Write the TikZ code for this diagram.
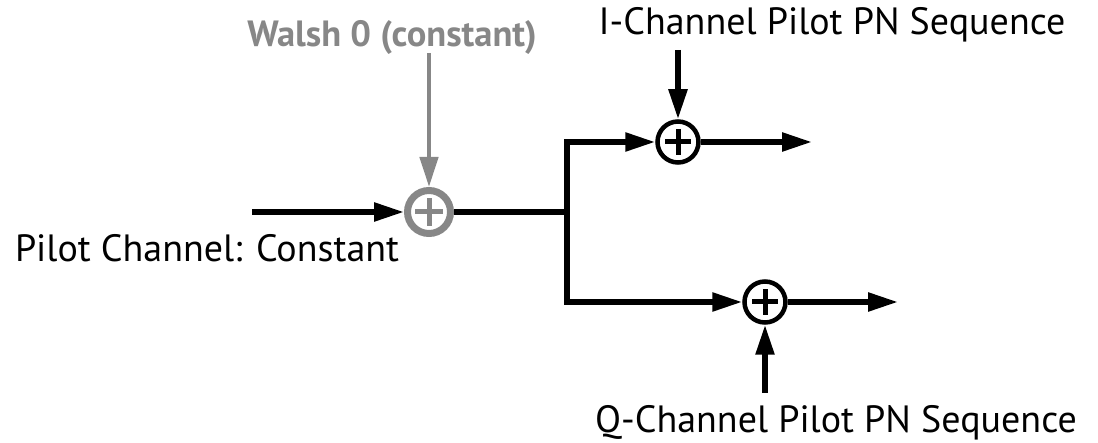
\documentclass[tikz,border=0pt]{standalone}
\usepackage{fontspec}
\setmainfont{PT Sans}
\usetikzlibrary{arrows.meta}
\definecolor{wgray}{RGB}{135,135,135}
\tikzset{
  sig/.style={line width=5.5pt, -{Triangle[length=30pt,width=18pt]}},
  wire/.style={line width=5.5pt},
  adder/.style={circle, draw, line width=4.5pt, minimum size=41pt, inner sep=0pt},
  gadder/.style={circle, draw=wgray, line width=7pt, minimum size=43pt, inner sep=0pt},
  plusbar/.style={line width=5pt},
  lbl/.style={anchor=base, inner sep=0pt, font=\fontsize{38}{44}\selectfont},
}
\begin{document}
\begin{tikzpicture}[x=1pt,y=-1pt]
\useasboundingbox (0,0) rectangle (1098,443);
% adders
\node[gadder] (w) at (429,212) {};
\node[adder] (i) at (678,142) {};
\node[adder] (q) at (765,302) {};
\foreach \n/\c/\h in {w/wgray/14, i/black/13, q/black/13}{
  \draw[plusbar, draw=\c] ([xshift=-\h pt]\n.center) -- ([xshift=\h pt]\n.center);
  \draw[plusbar, draw=\c] ([yshift=-\h pt]\n.center) -- ([yshift=\h pt]\n.center);
}
% labels
\node[lbl, text=wgray, font=\fontsize{36.5}{42}\selectfont\bfseries] (wl) at (392,47) {Walsh 0 (constant)};
\node[lbl] (il) at (832,35) {I-Channel Pilot PN Sequence};
\node[lbl] (pl) at (207,262) {Pilot Channel: Constant};
\node[lbl] (ql) at (836,432) {Q-Channel Pilot PN Sequence};
% free ends
\coordinate (in) at (252,212);
\coordinate (wtop) at (429,53);
\coordinate (j) at (567,212);
\coordinate (jt) at (567,142);
\coordinate (jb) at (567,302);
\coordinate (itop) at (678,50);
\coordinate (iout) at (812,142);
\coordinate (qbot) at (765,393);
\coordinate (qout) at (898,302);
% connectors
\draw[sig] (in) -- (w);
\draw[sig, draw=wgray, fill=wgray, line width=4.5pt] (wtop) -- (w);
\draw[wire] (w) -- (j);
\draw[wire, line cap=rect] (jt) -- (jb);
\draw[sig] (jt) -- (i);
\draw[sig] (jb) -- (q);
\draw[sig] (itop) -- (i);
\draw[sig] (i) -- (iout);
\draw[sig] (qbot) -- (q);
\draw[sig] (q) -- (qout);
\end{tikzpicture}
\end{document}
